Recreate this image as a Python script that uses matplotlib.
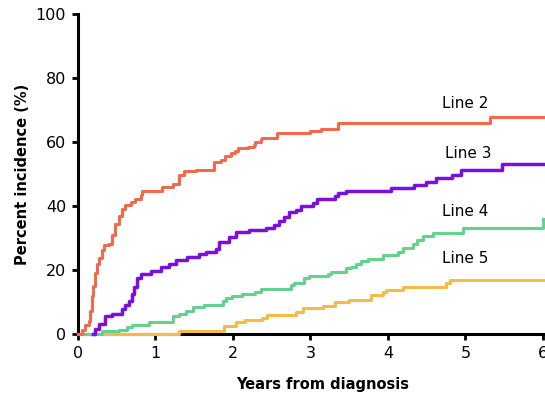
import matplotlib
matplotlib.use("Agg")
import matplotlib.pyplot as plt

# cumulative incidence curves (years, percent)
line2_t = [0, 0.05, 0.095, 0.14, 0.16, 0.18, 0.20, 0.22, 0.25, 0.27, 0.31, 0.33, 0.40, 0.44,
           0.48, 0.53, 0.57, 0.61, 0.68, 0.74, 0.81, 0.83, 1.09, 1.22, 1.30, 1.37, 1.52, 1.76,
           1.84, 1.90, 1.97, 2.03, 2.06, 2.19, 2.27, 2.29, 2.36, 2.38, 2.57, 3.0, 3.13, 3.35,
           5.31, 6.0]
line2_y = [0, 1.1, 2.8, 4.0, 7.3, 11.9, 15.0, 19.0, 22.0, 23.7, 26.3, 27.7, 28.2, 31.0,
           34.5, 37.0, 39.0, 40.2, 41.2, 42.2, 43.5, 44.6, 46.0, 47.0, 49.8, 50.8, 51.3, 53.8,
           54.5, 55.5, 56.5, 57.3, 58.0, 58.5, 59.0, 60.1, 60.9, 61.3, 62.7, 63.3, 64.2, 65.8,
           67.9, 67.9]

line3_t = [0.20, 0.22, 0.27, 0.35, 0.44, 0.57, 0.61, 0.66, 0.70, 0.72, 0.76, 0.81, 0.94,
           1.07, 1.17, 1.26, 1.41, 1.56, 1.65, 1.78, 1.82, 1.95, 2.04, 2.21, 2.42, 2.53, 2.59,
           2.66, 2.72, 2.81, 2.88, 3.03, 3.09, 3.31, 3.35, 3.46, 4.04, 4.34, 4.49, 4.62, 4.82,
           4.94, 5.47, 6.0]
line3_y = [0, 1.7, 3.0, 5.6, 6.2, 7.9, 9.0, 10.2, 12.4, 14.7, 17.5, 18.6, 19.8,
           20.9, 22.0, 23.2, 24.0, 24.9, 25.6, 26.6, 28.8, 30.2, 32.0, 32.5, 33.2, 34.1, 35.3,
           36.7, 38.0, 38.8, 39.9, 41.0, 42.1, 43.1, 44.0, 44.8, 45.5, 46.6, 47.6, 48.6, 49.8,
           51.3, 53.0, 53.0]

line4_t = [0, 0.31, 0.53, 0.63, 0.70, 0.92, 1.22, 1.30, 1.39, 1.48, 1.63, 1.87, 1.91, 1.99,
           2.12, 2.29, 2.36, 2.75, 2.79, 2.92, 2.98, 3.22, 3.26, 3.46, 3.52, 3.59, 3.65, 3.74,
           3.93, 4.13, 4.19, 4.32, 4.37, 4.45, 4.58, 4.97, 6.0]
line4_y = [0, 0.8, 1.3, 2.3, 2.9, 3.8, 5.6, 6.4, 7.3, 8.5, 9.0, 10.2, 11.3, 12.0,
           12.4, 13.0, 14.1, 15.3, 15.8, 17.6, 18.0, 18.7, 19.5, 20.5, 21.0, 21.8, 22.8, 23.4,
           24.7, 25.7, 27.0, 28.0, 29.4, 30.7, 31.5, 33.2, 35.8]

line5_t = [0, 1.30, 1.89, 2.04, 2.16, 2.38, 2.44, 2.81, 2.90, 3.16, 3.31, 3.50, 3.78, 3.93,
           3.98, 4.19, 4.75, 4.80, 6.0]
line5_y = [0, 0.9, 2.6, 3.7, 4.4, 4.9, 5.9, 6.8, 8.0, 8.9, 9.9, 10.6, 12.2, 13.0,
           13.8, 14.8, 15.8, 16.9, 16.9]

labels = ["Line 2", "Line 3", "Line 4", "Line 5"]
label_pos = [(5.0, 71.9), (5.03, 56.3), (5.0, 38.4), (5.0, 23.7)]
colors = ["#f2694b", "#7a0fe0", "#62d38c", "#f6bb45"]

plt.rcParams['font.family'] = 'DejaVu Sans'
fig = plt.figure(figsize=(5.45, 3.95), dpi=100)
ax = fig.add_axes([0.1431, 0.1544, 0.8532, 0.8101])

# yellow first so green sits on top of it along the zero line
ax.step(line5_t, line5_y, where="post", color=colors[3], lw=2.2, clip_on=False, zorder=3)
ax.step(line4_t, line4_y, where="post", color=colors[2], lw=2.2, clip_on=False, zorder=3)
ax.step(line3_t, line3_y, where="post", color=colors[1], lw=2.5, clip_on=False, zorder=3)
ax.step(line2_t, line2_y, where="post", color=colors[0], lw=2.2, clip_on=False, zorder=3)

for lab, (lx, ly) in zip(labels, label_pos):
    ax.text(lx, ly, lab, ha="center", va="center", fontsize=11, color="black")

ax.set_xlim(0, 6)
ax.set_ylim(0, 100)
ax.set_xticks(range(0, 7))
ax.set_yticks(range(0, 101, 20))
for s in ["top", "right"]:
    ax.spines[s].set_visible(False)
for s in ["left", "bottom"]:
    ax.spines[s].set_linewidth(2.2)
ax.tick_params(direction="out", length=4.5, width=2, labelsize=11.5, pad=4)

ax.set_xlabel("Years from diagnosis", fontsize=10.5, fontweight="bold")
ax.set_ylabel("Percent incidence (%)", fontsize=10.5, fontweight="bold")
ax.xaxis.set_label_coords(0.527, -0.134)
ax.yaxis.set_label_coords(-0.103, 0.5)

fig.savefig("out.png", dpi=100)
